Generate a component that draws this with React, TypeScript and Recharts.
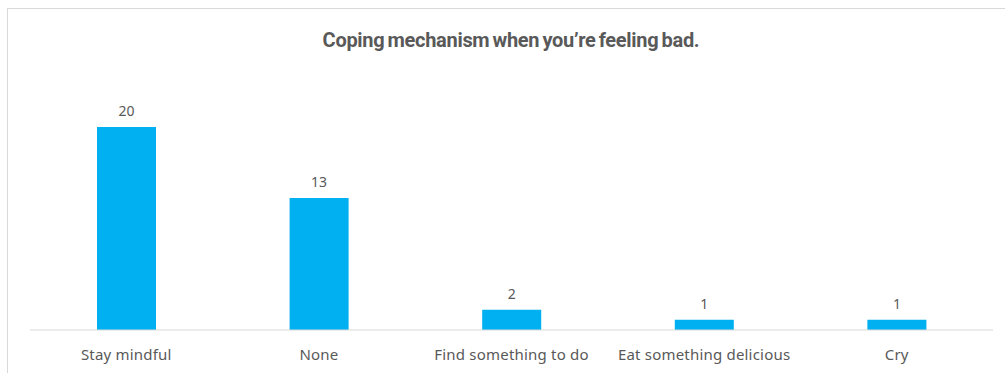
import { BarChart, Bar, XAxis, YAxis, LabelList } from "recharts";

const categories = [
  "Stay mindful",
  "None",
  "Find something to do",
  "Eat something delicious",
  "Cry",
];
const counts = [20, 13, 2, 1, 1];

const data = categories.map((name, i) => ({ name, count: counts[i] }));

export default function App() {
  return (
    <div
      style={{
        position: "absolute",
        left: 0,
        top: 0,
        width: 1005,
        height: 373,
        overflow: "hidden",
        background: "#fff",
        fontFamily: "'Noto Sans', sans-serif",
      }}
    >
      {/* chart frame, runs off the right and bottom edges */}
      <div
        style={{
          position: "absolute",
          left: 7,
          top: 8,
          width: 1020,
          height: 400,
          border: "1px solid #d9d9d9",
        }}
      />
      <div
        style={{
          position: "absolute",
          top: 28,
          left: 0,
          width: 1022,
          textAlign: "center",
          fontFamily: "Roboto, sans-serif",
          fontWeight: 700,
          fontSize: 20,
          lineHeight: "24px",
          color: "#595959",
          letterSpacing: -0.3,
          wordSpacing: -1.5,
        }}
      >
        Coping mechanism when you’re feeling bad.
      </div>
      <BarChart
        width={1005}
        height={373}
        data={data}
        margin={{ top: 127, right: 12, left: 30, bottom: 0 }}
        style={{ position: "absolute", left: 0, top: 0 }}
      >
        <XAxis
          dataKey="name"
          height={43}
          tickLine={false}
          axisLine={{ stroke: "#d9d9d9" }}
          tickMargin={13}
          tick={{ fontSize: 15, fill: "#595959", letterSpacing: 0.2 }}
          interval={0}
        />
        <YAxis hide domain={[0, 20]} />
        <Bar dataKey="count" fill="#00B0F0" barSize={59} isAnimationActive={false}>
          <LabelList
            dataKey="count"
            position="top"
            offset={11}
            style={{ fontSize: 14, fill: "#595959" }}
          />
        </Bar>
      </BarChart>
    </div>
  );
}
